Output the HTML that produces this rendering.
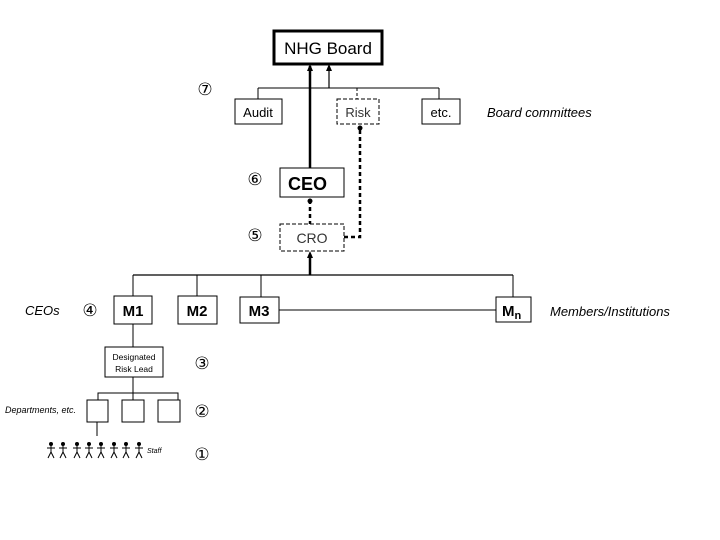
<!DOCTYPE html>
<html><head><meta charset="utf-8"><style>
html,body{margin:0;padding:0;background:#fff;width:720px;height:540px;overflow:hidden}
svg text{font-family:"Liberation Sans",Arial,sans-serif}
</style></head><body>
<svg width="720" height="540" viewBox="0 0 720 540" xmlns="http://www.w3.org/2000/svg">
<defs>
<marker id="ah" markerWidth="6" markerHeight="6" refX="3" refY="5" orient="auto-start-reverse" markerUnits="userSpaceOnUse">
<path d="M0,6 L3,0 L6,6 Z" fill="#000"/></marker>
</defs>
<!-- NHG Board -->
<rect x="274" y="31" width="108" height="33" fill="#fff" stroke="#000" stroke-width="3"/>
<text x="328" y="54" font-size="17" text-anchor="middle">NHG Board</text>
<!-- committee bus -->
<line x1="258" y1="88" x2="439" y2="88" stroke="#000" stroke-width="1"/>
<line x1="258" y1="88" x2="258" y2="99" stroke="#000"/>
<line x1="439" y1="88" x2="439" y2="99" stroke="#000"/>
<line x1="357" y1="88" x2="357" y2="99" stroke="#000" stroke-dasharray="3,2"/>
<line x1="329" y1="88" x2="329" y2="66" stroke="#000" stroke-width="1.2"/>
<path d="M326,71 L329,64 L332,71 Z"/>
<rect x="235" y="99" width="47" height="25" fill="#fff" stroke="#000"/>
<text x="258" y="117" font-size="13" text-anchor="middle">Audit</text>
<rect x="337" y="99" width="42" height="25" fill="#fff" stroke="#000" stroke-dasharray="4,2"/>
<text x="358" y="117" font-size="13" text-anchor="middle" fill="#333">Risk</text>
<rect x="422" y="99" width="38" height="25" fill="#fff" stroke="#000"/>
<text x="441" y="117" font-size="13" text-anchor="middle">etc.</text>
<text x="487" y="117" font-size="13" font-style="italic">Board committees</text>
<!-- CEO line to board -->
<line x1="310" y1="168" x2="310" y2="66" stroke="#000" stroke-width="2.5"/>
<path d="M307,71 L310,64 L313,71 Z"/>
<text x="205" y="95" font-size="17" text-anchor="middle">⑦</text>
<text x="255" y="185" font-size="17" text-anchor="middle">⑥</text>
<text x="255" y="241" font-size="17" text-anchor="middle">⑤</text>
<rect x="280" y="168" width="64" height="29" fill="#fff" stroke="#000"/>
<text x="288" y="190" font-size="18" font-weight="bold">CEO</text>
<!-- CRO -->
<line x1="310" y1="200" x2="310" y2="224" stroke="#000" stroke-width="2.5" stroke-dasharray="4,3"/>
<circle cx="310" cy="201" r="2.5"/>
<path d="M344,237 L360,237 L360,128" fill="none" stroke="#000" stroke-width="2.5" stroke-dasharray="4,3"/>
<circle cx="360" cy="128" r="2.5"/>
<rect x="280" y="224" width="64" height="27" fill="#fff" stroke="#000" stroke-dasharray="4,2"/>
<text x="312" y="243" font-size="14" text-anchor="middle" fill="#333">CRO</text>
<!-- members bus -->
<line x1="310" y1="275" x2="310" y2="254" stroke="#000" stroke-width="2.5"/>
<path d="M307,258 L310,251 L313,258 Z"/>
<line x1="133" y1="275" x2="513" y2="275" stroke="#000" stroke-width="1.2"/>
<line x1="133" y1="275" x2="133" y2="296" stroke="#000"/>
<line x1="197" y1="275" x2="197" y2="296" stroke="#000"/>
<line x1="261" y1="275" x2="261" y2="297" stroke="#000"/>
<line x1="513" y1="275" x2="513" y2="297" stroke="#000"/>
<line x1="279" y1="310" x2="496" y2="310" stroke="#000"/>
<rect x="114" y="296" width="38" height="28" fill="#fff" stroke="#000"/>
<text x="133" y="316" font-size="15" font-weight="bold" text-anchor="middle">M1</text>
<rect x="178" y="296" width="39" height="28" fill="#fff" stroke="#000"/>
<text x="197" y="316" font-size="15" font-weight="bold" text-anchor="middle">M2</text>
<rect x="240" y="297" width="39" height="26" fill="#fff" stroke="#000"/>
<text x="259" y="316" font-size="15" font-weight="bold" text-anchor="middle">M3</text>
<rect x="496" y="297" width="35" height="25" fill="#fff" stroke="#000"/>
<text x="502" y="316" font-size="15" font-weight="bold">M<tspan font-size="11" dy="3">n</tspan></text>
<text x="550" y="316" font-size="13" font-style="italic">Members/Institutions</text>
<text x="25" y="315" font-size="13" font-style="italic">CEOs</text>
<text x="90" y="316" font-size="17" text-anchor="middle">④</text>
<!-- DRL -->
<line x1="133" y1="324" x2="133" y2="347" stroke="#000"/>
<rect x="105" y="347" width="58" height="30" fill="#fff" stroke="#000"/>
<text x="134" y="360" font-size="8.5" text-anchor="middle">Designated</text>
<text x="134" y="372" font-size="8.5" text-anchor="middle">Risk Lead</text>
<text x="202" y="369" font-size="17" text-anchor="middle">③</text>
<line x1="133" y1="377" x2="133" y2="393" stroke="#000"/>
<path d="M98,400 L98,393 L178,393 L178,400 M133,393 L133,400" fill="none" stroke="#000"/>
<rect x="87" y="400" width="21" height="22" fill="#fff" stroke="#000"/>
<rect x="122" y="400" width="22" height="22" fill="#fff" stroke="#000"/>
<rect x="158" y="400" width="22" height="22" fill="#fff" stroke="#000"/>
<text x="5" y="413" font-size="9" font-style="italic">Departments, etc.</text>
<text x="202" y="417" font-size="17" text-anchor="middle">②</text>
<line x1="97" y1="422" x2="97" y2="436" stroke="#000"/>
<g stroke="#000" stroke-width="1" fill="none">
<g id="fig"><circle cx="51" cy="444" r="1.5" fill="#000"/><path d="M51,445 L51,452 M47,448 L55,448 M51,452 L48,458 M51,452 L54,458"/></g>
<use href="#fig" x="12"/><use href="#fig" x="26"/><use href="#fig" x="38"/>
<use href="#fig" x="50"/><use href="#fig" x="63"/><use href="#fig" x="75"/><use href="#fig" x="88"/>
</g>
<text x="147" y="453" font-size="7" font-style="italic">Staff</text>
<text x="202" y="460" font-size="17" text-anchor="middle">①</text>
</svg>
</body></html>
